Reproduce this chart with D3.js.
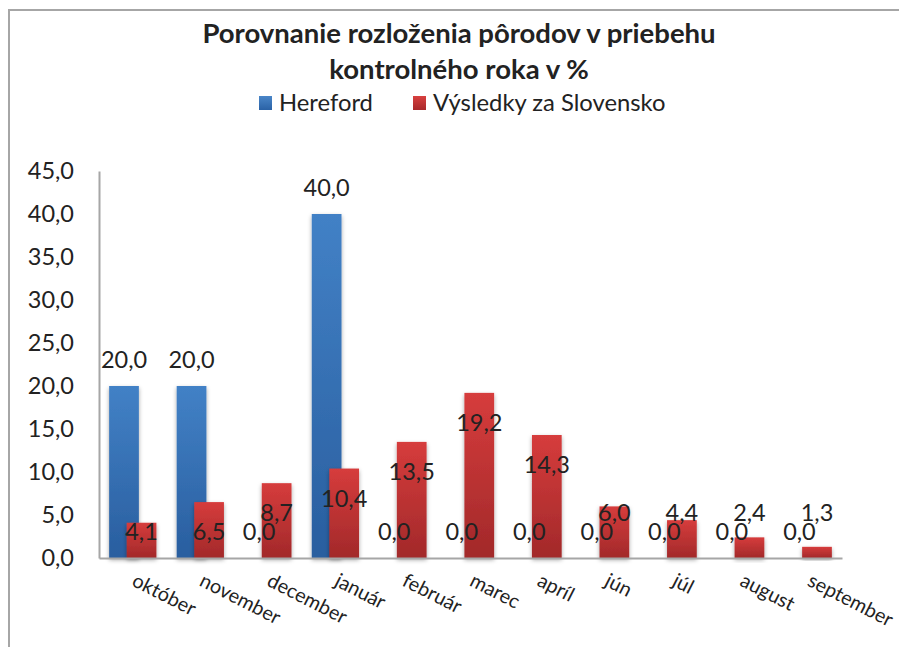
<!DOCTYPE html>
<html>
<head>
<meta charset="utf-8">
<script src="https://cdn.jsdelivr.net/npm/d3@7"></script>
<style>
  body { margin: 0; background: #fff; }
  svg { display: block; font-family: Lato, "Open Sans", sans-serif; }
</style>
</head>
<body>
<div id="myChart"></div>
<script>
const months = ["október", "november", "december", "január", "február", "marec", "apríl", "jún", "júl", "august", "september"];
const hereford = [20.0, 20.0, 0.0, 40.0, 0.0, 0.0, 0.0, 0.0, 0.0, 0.0, 0.0];
const slovensko = [4.1, 6.5, 8.7, 10.4, 13.5, 19.2, 14.3, 6.0, 4.4, 2.4, 1.3];
const seriesNames = ["Hereford", "Výsledky za Slovensko"];
const yTicks = [0, 5, 10, 15, 20, 25, 30, 35, 40, 45];

const W = 899, H = 647;
const margin = { top: 171, right: 57, bottom: 89, left: 99 },
  width = W - margin.left - margin.right,
  height = H - margin.top - margin.bottom;

const svg = d3.select("#myChart").append("svg")
  .attr("width", W)
  .attr("height", H);

const defs = svg.append("defs");
function grad(id, top, bottom) {
  const g = defs.append("linearGradient").attr("id", id)
    .attr("x1", 0).attr("y1", 0).attr("x2", 0).attr("y2", 1);
  g.append("stop").attr("offset", "0%").attr("stop-color", top);
  g.append("stop").attr("offset", "100%").attr("stop-color", bottom);
}
grad("gBlue", "#4281c6", "#295e9f");
grad("gRed", "#d63c3c", "#a2292a");
grad("lBlue", "#4a86c8", "#2a62a6");
grad("lRed", "#d8403f", "#a8292b");
defs.append("filter").attr("id", "shadow").attr("x", "-30%").attr("y", "-10%")
  .attr("width", "160%").attr("height", "130%")
  .append("feDropShadow").attr("dx", 0).attr("dy", 2).attr("stdDeviation", 2)
  .attr("flood-color", "#000").attr("flood-opacity", 0.35);

// outer frame (cut off at right and bottom)
svg.append("rect")
  .attr("x", 9).attr("y", 10).attr("width", W).attr("height", H)
  .attr("fill", "none").attr("stroke", "#a6a6a6").attr("stroke-width", 2);

// title
svg.append("text").attr("x", 459).attr("y", 43).attr("text-anchor", "middle")
  .attr("font-size", 27.5).attr("font-weight", "bold").attr("fill", "#222")
  .text("Porovnanie rozloženia pôrodov v priebehu");
svg.append("text").attr("x", 459).attr("y", 79).attr("text-anchor", "middle")
  .attr("font-size", 27.5).attr("font-weight", "bold").attr("fill", "#222")
  .text("kontrolného roka v %");

// legend
const legend = svg.append("g");
const legendX = [259, 413];
const legendFill = ["url(#lBlue)", "url(#lRed)"];
seriesNames.forEach((s, i) => {
  legend.append("rect").attr("x", legendX[i]).attr("y", 96)
    .attr("width", 13).attr("height", 14).attr("fill", legendFill[i]);
  legend.append("text").attr("x", legendX[i] + 20).attr("y", 111)
    .attr("font-size", 23.8).attr("fill", "#222").text(s);
});

const g = svg.append("g").attr("transform", "translate(" + margin.left + "," + margin.top + ")");

const x0 = d3.scaleBand().domain(months).range([0, width]).padding(0);
const y = d3.scaleLinear().domain([0, 45]).range([height, 0]);

const barW = x0.bandwidth() * 0.44;
const step = barW * 0.59;
const off = (x0.bandwidth() - barW - step) / 2;
const x1 = d3.scalePoint().domain(seriesNames).range([off, off + step]);

const fmt = (v) => v.toFixed(1).replace(".", ",");

// axes
const yAxis = g.append("g")
  .call(d3.axisLeft(y).tickValues(yTicks).tickSize(0).tickPadding(25).tickFormat(fmt));
yAxis.select(".domain").attr("stroke", "#a6a6a6").attr("stroke-width", 2);
yAxis.selectAll("text").attr("font-size", 23.5).attr("fill", "#222")
  .attr("font-family", "Lato, sans-serif");

const rows = months.map((m, i) => ({ m: m, h: hereford[i], s: slovensko[i] }));

// bars: Hereford first, Slovensko overlapping in front
g.selectAll(".barH").data(rows).enter().append("rect")
  .attr("class", "barH")
  .attr("x", (d) => x0(d.m) + x1(seriesNames[0]))
  .attr("y", (d) => y(d.h))
  .attr("width", barW)
  .attr("height", (d) => height - y(d.h))
  .attr("fill", "url(#gBlue)")
  .attr("filter", "url(#shadow)");

g.selectAll(".barS").data(rows).enter().append("rect")
  .attr("class", "barS")
  .attr("x", (d) => x0(d.m) + x1(seriesNames[1]))
  .attr("y", (d) => y(d.s))
  .attr("width", barW)
  .attr("height", (d) => height - y(d.s))
  .attr("fill", "url(#gRed)")
  .attr("filter", "url(#shadow)");

const xAxis = g.append("g").attr("transform", "translate(0," + height + ")")
  .call(d3.axisBottom(x0).tickSize(0).tickFormat(""));
xAxis.select(".domain").attr("stroke", "#a6a6a6").attr("stroke-width", 2);

// rotated month labels
g.selectAll(".mlabel").data(months).enter().append("text")
  .attr("class", "mlabel")
  .attr("transform", (d) => "translate(" + (x0(d) + x0.bandwidth() / 2 - 2) + "," + (height + 27) + ") rotate(27)")
  .attr("font-size", 19.8).attr("fill", "#222")
  .text((d) => d);

// value labels
const lowY = height - 26;
g.selectAll(".vH").data(rows).enter().append("text")
  .attr("class", "vH")
  .attr("x", (d) => x0(d.m) + x1(seriesNames[0]) + barW / 2)
  .attr("y", (d) => y(d.h) - 26)
  .attr("dy", "0.35em").attr("text-anchor", "middle")
  .attr("font-size", 23.5).attr("fill", "#222")
  .text((d) => fmt(d.h));

g.selectAll(".vS").data(rows).enter().append("text")
  .attr("class", "vS")
  .attr("x", (d) => x0(d.m) + x1(seriesNames[1]) + barW / 2)
  .attr("y", (d) => {
    let p = Math.min(y(d.s) + 30, lowY);
    if (d.h === 0 && p > lowY - 19) p = lowY - 19;
    return p;
  })
  .attr("dy", "0.35em").attr("text-anchor", "middle")
  .attr("font-size", 23.5).attr("fill", "#222")
  .text((d) => fmt(d.s));
</script>
</body>
</html>
